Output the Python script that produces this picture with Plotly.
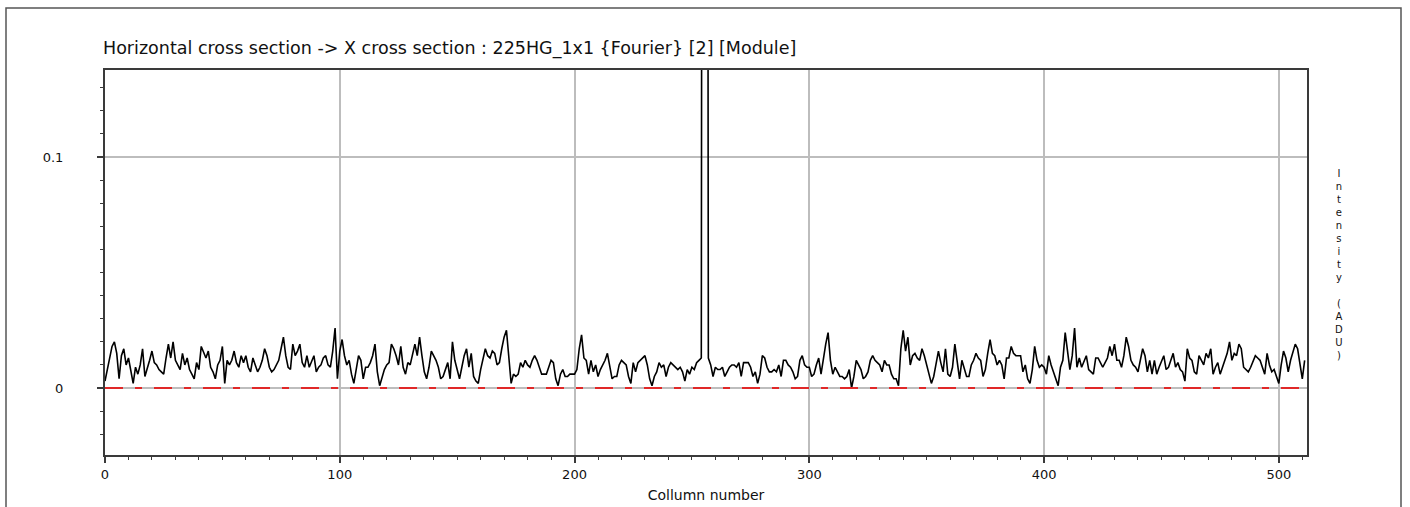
import plotly.graph_objects as go

# ---------------- text ----------------
title_text = "Horizontal cross section -> X cross section : 225HG_1x1 {Fourier} [2] [Module]"
x_title = "Collumn number"
y_title_chars = ["I", "n", "t", "e", "n", "s", "i", "t", "y", " ", "(", "A", "D", "U", ")"]
x_tick_vals = [0, 100, 200, 300, 400, 500]
x_tick_text = ["0", "100", "200", "300", "400", "500"]
y_tick_vals = [0, 0.1]
y_tick_text = ["0", "0.1"]

# ---------------- data (module per column) ----------------
intensity_000_048 = [
    0.003, 0.008, 0.012, 0.018, 0.020, 0.015, 0.004, 0.014, 0.017, 0.010,
    0.013, 0.008, 0.002, 0.009, 0.006, 0.010, 0.017, 0.005, 0.008, 0.012,
    0.016, 0.011, 0.010, 0.008, 0.007, 0.006, 0.013, 0.019, 0.013, 0.020,
    0.012, 0.010, 0.008, 0.015, 0.010, 0.013, 0.008, 0.006, 0.004, 0.011,
    0.008, 0.018, 0.015, 0.013, 0.016, 0.009, 0.007, 0.004, 0.010]
intensity_049_100 = [
    0.012, 0.018, 0.002, 0.012, 0.010, 0.012, 0.016, 0.011, 0.009, 0.014,
    0.011, 0.014, 0.009, 0.007, 0.013, 0.010, 0.007, 0.009, 0.012, 0.017,
    0.014, 0.009, 0.007, 0.008, 0.010, 0.012, 0.017, 0.022, 0.014, 0.009,
    0.008, 0.019, 0.014, 0.016, 0.019, 0.011, 0.009, 0.014, 0.009, 0.012,
    0.014, 0.007, 0.009, 0.010, 0.013, 0.014, 0.010, 0.009, 0.016, 0.026,
    0.004, 0.016]
intensity_101_152 = [
    0.021, 0.014, 0.010, 0.012, 0.006, 0.002, 0.009, 0.014, 0.012, 0.004,
    0.009, 0.009, 0.011, 0.014, 0.019, 0.007, 0.001, 0.005, 0.008, 0.010,
    0.011, 0.019, 0.017, 0.014, 0.010, 0.018, 0.009, 0.006, 0.011, 0.010,
    0.014, 0.019, 0.014, 0.022, 0.014, 0.007, 0.004, 0.009, 0.016, 0.014,
    0.012, 0.009, 0.004, 0.005, 0.008, 0.011, 0.004, 0.020, 0.012, 0.008,
    0.004, 0.009]
intensity_153_204 = [
    0.014, 0.017, 0.009, 0.015, 0.005, 0.003, 0.002, 0.008, 0.012, 0.017,
    0.014, 0.013, 0.016, 0.015, 0.010, 0.011, 0.017, 0.022, 0.025, 0.014,
    0.002, 0.006, 0.005, 0.006, 0.011, 0.009, 0.012, 0.010, 0.009, 0.012,
    0.014, 0.012, 0.009, 0.006, 0.006, 0.006, 0.009, 0.012, 0.011, 0.004,
    0.001, 0.006, 0.008, 0.005, 0.005, 0.006, 0.006, 0.006, 0.008, 0.017,
    0.023, 0.013]
intensity_205_256 = [
    0.012, 0.006, 0.012, 0.007, 0.010, 0.005, 0.008, 0.010, 0.012, 0.015,
    0.010, 0.004, 0.005, 0.005, 0.010, 0.012, 0.011, 0.010, 0.005, 0.002,
    0.011, 0.007, 0.011, 0.012, 0.013, 0.014, 0.010, 0.004, 0.001, 0.005,
    0.007, 0.011, 0.009, 0.010, 0.005, 0.009, 0.011, 0.010, 0.009, 0.008,
    0.009, 0.007, 0.003, 0.008, 0.006, 0.009, 0.008, 0.011, 0.012, 0.013,
    1.0, 1.0]
intensity_257_308 = [
    0.013, 0.010, 0.005, 0.009, 0.008, 0.008, 0.009, 0.005, 0.007, 0.009,
    0.010, 0.010, 0.009, 0.011, 0.005, 0.011, 0.011, 0.011, 0.009, 0.005,
    0.007, 0.002, 0.006, 0.014, 0.013, 0.009, 0.007, 0.007, 0.008, 0.007,
    0.010, 0.005, 0.012, 0.012, 0.010, 0.009, 0.007, 0.004, 0.005, 0.012,
    0.014, 0.010, 0.009, 0.009, 0.005, 0.006, 0.010, 0.013, 0.006, 0.013,
    0.019, 0.024]
intensity_309_360 = [
    0.012, 0.006, 0.009, 0.007, 0.005, 0.005, 0.004, 0.005, 0.008, 0.000,
    0.005, 0.012, 0.010, 0.008, 0.004, 0.005, 0.007, 0.012, 0.014, 0.012,
    0.011, 0.010, 0.007, 0.012, 0.010, 0.010, 0.006, 0.004, 0.004, 0.001,
    0.017, 0.025, 0.016, 0.022, 0.010, 0.014, 0.015, 0.013, 0.012, 0.017,
    0.014, 0.010, 0.007, 0.002, 0.005, 0.010, 0.016, 0.011, 0.007, 0.017,
    0.006, 0.005]
intensity_361_412 = [
    0.009, 0.019, 0.012, 0.004, 0.012, 0.008, 0.005, 0.005, 0.010, 0.012,
    0.015, 0.013, 0.012, 0.005, 0.008, 0.015, 0.021, 0.015, 0.014, 0.010,
    0.012, 0.010, 0.004, 0.013, 0.013, 0.018, 0.015, 0.014, 0.014, 0.014,
    0.007, 0.010, 0.004, 0.002, 0.008, 0.018, 0.012, 0.009, 0.010, 0.009,
    0.006, 0.014, 0.010, 0.007, 0.005, 0.001, 0.009, 0.012, 0.024, 0.015,
    0.008, 0.014]
intensity_413_464 = [
    0.026, 0.009, 0.013, 0.009, 0.012, 0.014, 0.008, 0.007, 0.006, 0.013,
    0.013, 0.011, 0.009, 0.011, 0.013, 0.018, 0.014, 0.019, 0.012, 0.012,
    0.009, 0.014, 0.022, 0.018, 0.012, 0.010, 0.009, 0.007, 0.012, 0.017,
    0.014, 0.007, 0.012, 0.006, 0.012, 0.006, 0.009, 0.012, 0.014, 0.008,
    0.009, 0.012, 0.015, 0.009, 0.011, 0.008, 0.007, 0.003, 0.017, 0.013,
    0.012, 0.007]
intensity_465_511 = [
    0.006, 0.014, 0.012, 0.010, 0.015, 0.013, 0.017, 0.006, 0.009, 0.011,
    0.006, 0.009, 0.011, 0.015, 0.020, 0.012, 0.015, 0.014, 0.019, 0.017,
    0.009, 0.008, 0.007, 0.009, 0.012, 0.014, 0.013, 0.012, 0.009, 0.006,
    0.015, 0.010, 0.007, 0.008, 0.005, 0.002, 0.010, 0.016, 0.013, 0.007,
    0.012, 0.016, 0.019, 0.017, 0.010, 0.004, 0.012]

intensity = (intensity_000_048 + intensity_049_100 + intensity_101_152 +
             intensity_153_204 + intensity_205_256 + intensity_257_308 +
             intensity_309_360 + intensity_361_412 + intensity_413_464 +
             intensity_465_511)
column = list(range(len(intensity)))
baseline_value = 0.0

# ---------------- layout geometry (pixels) ----------------
W, H = 1410, 507
PL, PR, PT, PB = 105, 1307, 70, 455   # plot area edges
pw, ph = PR - PL, PB - PT


def px_x(px):
    return (px - PL) / pw


def px_y(py):
    return (PB - py) / ph


FONT = "DejaVu Sans"
TXT = "#111111"

fig = go.Figure()
fig.add_trace(go.Scatter(
    x=column, y=intensity, mode="lines",
    line=dict(color="#000000", width=1.6),
    hoverinfo="skip", showlegend=False,
))

axis_line = "#3a3a3a"
grid_col = "#bdbdbd"

fig.update_layout(
    width=W, height=H,
    margin=dict(l=PL, r=W - PR, t=PT, b=H - PB, pad=0, autoexpand=False),
    paper_bgcolor="white", plot_bgcolor="white",
    showlegend=False,
    title=dict(
        text=title_text,
        x=103 / W, xanchor="left", xref="container",
        y=1 - 48 / H, yanchor="middle", yref="container",
        font=dict(family=FONT, size=17.5, color=TXT),
        automargin=False,
    ),
    xaxis=dict(
        range=[0, 512], automargin=False,
        tickmode="array", tickvals=x_tick_vals, ticktext=x_tick_text,
        ticks="outside", ticklen=6, tickwidth=1.5, tickcolor=axis_line,
        minor=dict(dtick=10, tick0=0, ticks="outside", ticklen=3,
                   tickwidth=1, tickcolor=axis_line, showgrid=False),
        showgrid=True, gridcolor=grid_col, gridwidth=1.5,
        zeroline=False,
        showline=True, linecolor=axis_line, linewidth=2, mirror=True,
        tickfont=dict(family=FONT, size=13, color=TXT),
        title=dict(text=x_title, standoff=10,
                   font=dict(family=FONT, size=14, color=TXT)),
    ),
    yaxis=dict(
        range=[-0.029, 0.1377], automargin=False,
        tickmode="array", tickvals=y_tick_vals, ticktext=y_tick_text,
        ticks="outside", ticklen=6, tickwidth=1.5, tickcolor=axis_line,
        minor=dict(dtick=0.01, tick0=0, ticks="outside", ticklen=3,
                   tickwidth=1, tickcolor=axis_line, showgrid=False),
        showgrid=True, gridcolor=grid_col, gridwidth=1.5,
        zeroline=False,
        showline=True, linecolor=axis_line, linewidth=2, mirror=True,
        ticklabelstandoff=31,
        tickfont=dict(family=FONT, size=13, color=TXT),
    ),
)

# red dash-dot reference line at zero
fig.add_shape(
    type="line", xref="x domain", yref="y",
    x0=0, x1=1, y0=baseline_value, y1=baseline_value,
    line=dict(color="#e02828", width=2, dash="18px,12px,7px,12px"),
    layer="above",
)

# outer window frame
fig.add_shape(
    type="rect", xref="paper", yref="paper",
    x0=px_x(6), x1=px_x(1401), y0=px_y(520), y1=px_y(8),
    line=dict(color="#555555", width=1.5), fillcolor="rgba(0,0,0,0)",
    layer="above",
)

# vertical stacked y-axis title on the right
fig.add_annotation(
    xref="paper", yref="paper",
    x=px_x(1339), y=px_y(264),
    xanchor="center", yanchor="middle",
    text="<br>".join(y_title_chars),
    showarrow=False,
    font=dict(family=FONT, size=10, color=TXT),
)

fig.write_html("out.html")
